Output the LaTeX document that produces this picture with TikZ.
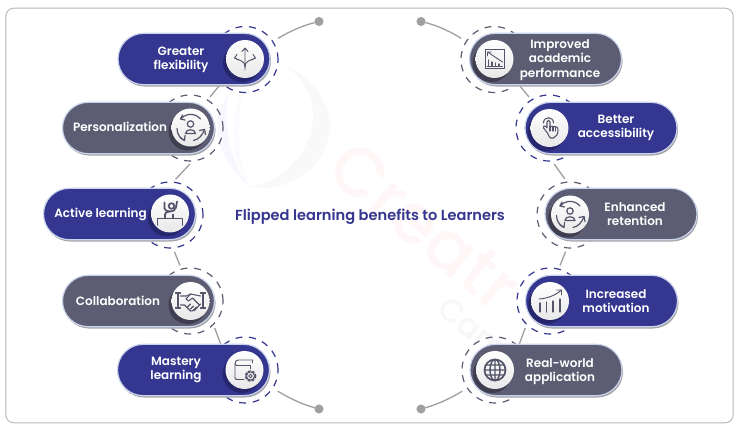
\documentclass[tikz,border=0pt]{standalone}
\usepackage{fontspec}
\setmainfont{Poppins Medium}[BoldFont=Poppins SemiBold]
\usetikzlibrary{shapes.misc,shadows,arrows.meta}
\definecolor{navy}{HTML}{34368F}
\definecolor{navyd}{HTML}{25266C}
\definecolor{slate}{HTML}{5C5C72}
\definecolor{slated}{HTML}{3E3E50}
\definecolor{edgeb}{HTML}{C9D4EC}
\definecolor{shadowg}{HTML}{A5A5A8}
\definecolor{linkg}{HTML}{A0A0A0}
\definecolor{icong}{HTML}{54546A}
\tikzset{
  x=0.75pt,y=-0.75pt,
  pillbase/.style={rounded rectangle,minimum width=114pt,minimum height=38.5pt,inner sep=0pt,outer sep=0pt,draw=edgeb,line width=0.9pt,
     drop shadow={shadow xshift=0.8pt,shadow yshift=-1.4pt,fill=shadowg,opacity=1}},
  pillnavy/.style={pillbase,fill=navy},
  pillslate/.style={pillbase,fill=slate},
  ringbase/.style={circle,minimum size=49.5pt,inner sep=0pt,outer sep=0pt,line width=0.9pt,dash pattern=on 5.2pt off 5pt},
  ringnavy/.style={ringbase,draw=navy},
  ringslate/.style={ringbase,draw=slate},
  discbase/.style={circle,minimum size=28.5pt,inner sep=0pt,outer sep=0pt,top color=white,bottom color=black!9},
  discnavy/.style={discbase,drop shadow={shadow xshift=-2.2pt,shadow yshift=-3pt,fill=navyd,opacity=1}},
  discslate/.style={discbase,drop shadow={shadow xshift=-2.2pt,shadow yshift=-3pt,fill=slated,opacity=1}},
  labeltext/.style={text=white,align=center,font=\fontsize{9pt}{10.7pt}\selectfont\bfseries,inner sep=0pt},
  dotend/.style={circle,fill=linkg,minimum size=6.8pt,inner sep=0pt,outer sep=0pt},
  link/.style={draw=linkg,line width=1pt},
  iconline/.style={draw=icong,line width=0.7pt,line cap=round,line join=round},
}
\newcommand{\iconsplit}{%
  \draw[iconline] (0,11)--(0,-11) (-3,-7.5)--(0,-11)--(3,-7.5);
  \draw[iconline] (0,8) .. controls (0,2) and (-4,2) .. (-10.5,-1) (-8,-4.5)--(-10.5,-1)--(-6.5,1);
  \draw[iconline] (0,8) .. controls (0,2) and (4,2) .. (10.5,-1) (8,-4.5)--(10.5,-1)--(6.5,1);}
\newcommand{\iconcycle}{%
  \draw[iconline,line width=0.9pt] (10,-8.5) arc (-40:-140:13) ;
  \draw[iconline,line width=0.9pt] (-8,-12.5)--(-10,-8.5)--(-5.5,-7.5);
  \draw[iconline,line width=0.9pt] (-13.5,1) .. controls (-13.5,7) and (-10,11) .. (-6,13);
  \draw[iconline,line width=0.9pt] (-10.5,10)--(-6,13)--(-5.5,8);
  \draw[iconline,line width=0.9pt] (3,13) .. controls (8,12) and (12,8) .. (14,2);
  \draw[iconline,line width=0.9pt] (9,3)--(14,2)--(15,7);
  \draw[iconline,line width=0.9pt] (0,-3.5) circle (3.2);
  \draw[iconline,line width=0.9pt] (-5,6) .. controls (-5,1) and (5,1) .. (5,6) -- cycle;}
\newcommand{\iconactive}{%
  \draw[iconline,line width=1.3pt] (-12.5,11.5)--(-12.5,5)--(12.5,5)--(12.5,11.5);
  \draw[iconline,line width=1.3pt] (-5,5)--(-5,1) .. controls (-5,-1) and (-3,-2) .. (0,-2) .. controls (3,-2) and (5,-3) .. (6,-6) (6,-6)--(7,-12);
  \draw[iconline,line width=1.3pt] (3,5)--(3,1) (-5.5,-11)--(-5.5,-5) .. controls (-5,-3) and (-3,-2) .. (0,-2);
  \draw[iconline,line width=1.3pt] (1.5,-7.5) circle (2.8);}
\newcommand{\iconshake}{%
  \draw[iconline,line width=0.8pt] (-15,-8)--(-10,-8) (-12.5,-8)--(-12.5,7) (-15,7)--(-10,7);
  \draw[iconline,line width=0.8pt] (15,-8)--(10,-8) (12.5,-8)--(12.5,7) (15,7)--(10,7);
  \draw[iconline,line width=0.8pt] (-10,-5)--(-4,-5)--(0,-7)--(10,-5);
  \draw[iconline,line width=0.8pt] (-10,4)--(-6,4)--(0,10)--(4,9.5)--(10,3);
  \draw[iconline,line width=0.8pt] (0,-7)--(-4.5,-2)--(-2,0)--(2,-3)--(9,4);
  \draw[iconline,line width=0.8pt] (-3,6)--(0,3) (0,8)--(3,5) (3,9)--(6,6);}
\newcommand{\iconbook}{%
  \draw[iconline] (-9.5,8)--(-9.5,-6) .. controls (-9.5,-9) and (-8,-10) .. (-6,-10)--(8,-10);
  \draw[iconline] (-9.5,-6) .. controls (-9.5,-4.5) and (-8,-4.5) .. (-6,-4.5)--(6,-4.5)--(6,-1);
  \draw[iconline] (-9.5,8) .. controls (-9.5,9.5) and (-8,9.5) .. (-6,9.5)--(-0.5,9.5);
  \draw[iconline] (8,-10)--(8,-7);
  \draw[iconline,line width=1.1pt,dash pattern=on 1.6pt off 1.6pt] (6,6) circle (5.2);
  \draw[iconline] (6,6) circle (4);
  \draw[iconline] (6,6) circle (1.7);}
\newcommand{\iconchartdown}{%
  \draw[iconline] (-9.5,-10) rectangle (9.5,9.5);
  \draw[iconline] (-7,-7)--(8,3) (-7,-3)--(-7,-7)--(-3,-7);
  \draw[iconline,line width=1pt] (-6,1)--(-6,6.5) (-2.5,3)--(-2.5,6.5) (1,4)--(1,6.5) (4.5,5)--(4.5,6.5);
  \draw[iconline] (-7.5,7.5)--(8,7.5);}
\newcommand{\iconhand}{%
  \draw[iconline,line width=0.8pt] (-2,5) -- (-6,0) .. controls (-7,-1.5) and (-5,-3) .. (-3.5,-1.5) -- (-2.5,0) -- (-2.5,-6) .. controls (-2.5,-8.5) and (0.5,-8.5) .. (0.5,-6) -- (0.5,-1.5) -- (4,-1.5) -- (7,-1) .. controls (8.5,-1) and (8.5,1) .. (8.5,2) .. controls (8.5,6) and (7,9) .. (4,10) -- (1,10) .. controls (-0.5,9) and (-1,7) .. (-2,5);
  \draw[iconline,line width=0.8pt] (0.5,-1.5)--(0.5,3) (3.5,-1.5)--(3.5,3) (6,-1)--(6,3);
  \draw[iconline,line width=0.8pt] (-6,-5) .. controls (-6,-12) and (4,-12) .. (4,-5);}
\newcommand{\iconchartup}{%
  \draw[iconline] (-11,-2) .. controls (-4,-2.5) and (5,-5) .. (11.5,-11) (6.5,-11)--(11.5,-11)--(11.5,-6);
  \draw[iconline,line width=0.9pt] (-10,2)--(-10,11) (-3.5,1)--(-3.5,11) (3,0)--(3,11) (10,-2)--(10,11);}
\newcommand{\iconglobe}{%
  \draw[draw=icong,line width=1.3pt,line cap=round] (0,0) circle (10.5);
  \draw[draw=icong,line width=1.1pt] (0,0) ellipse (5 and 10.5) (0,-10.5)--(0,10.5) (-10.5,0)--(10.5,0) (-9,-5)--(9,-5) (-9,5)--(9,5);}
\begin{document}
\begin{tikzpicture}
\useasboundingbox (0,0) rectangle (740,431);
\fill[white] (0,0) rectangle (740,431);
\node[draw=black!28,fill=white,rounded corners=6pt,line width=0.7pt,minimum width=545.5pt,minimum height=311pt,inner sep=0,outer sep=0] (frame) at (369.5,215.5) {};
% watermark
\fill[black!2.5] (250,187) .. controls (300,195) and (345,150) .. (325,105) .. controls (318,88) and (303,73) .. (287,67) .. controls (305,80) and (320,105) .. (310,135) .. controls (300,165) and (275,183) .. (250,187) -- cycle;
\fill[blue!3] (250,187) .. controls (222,165) and (205,125) .. (228,95) .. controls (224,125) and (228,160) .. (250,187) -- cycle;
\fill[blue!2] (250,187) .. controls (235,165) and (225,125) .. (245,85) .. controls (236,120) and (236,160) .. (250,187) -- cycle;
\node[rotate=-39,text=red!3,font=\fontsize{52pt}{52pt}\selectfont,inner sep=0,anchor=west] (wma) at (338,156) {Creatr};
\node[rotate=-38,text=black!3,font=\fontsize{24pt}{24pt}\selectfont,inner sep=0,anchor=west] (wmb) at (442,304) {Cam};
% rings
\node[ringnavy] (rA) at (245,59.5) {};
\node[ringslate] (rB) at (190,128) {};
\node[ringnavy] (rC) at (170,215) {};
\node[ringslate] (rD) at (190,301) {};
\node[ringnavy] (rE) at (245,370) {};
\node[ringslate] (rF) at (494,59.5) {};
\node[ringnavy] (rG) at (549,128) {};
\node[ringslate] (rH) at (570,215) {};
\node[ringnavy] (rI) at (550,301) {};
\node[ringslate] (rJ) at (495,370) {};
% end dots
\node[dotend] (dTL) at (319,21.5) {};
\node[dotend] (dTR) at (421,21.5) {};
\node[dotend] (dBL) at (319,409) {};
\node[dotend] (dBR) at (421,409) {};
% connectors
\draw[link,shorten <=4.5pt] (rA.33) .. controls (292,30) and (305,25) .. (dTL);
\draw[link,shorten <=4.5pt] (rF.147) .. controls (448,30) and (435,25) .. (dTR);
\draw[link,shorten <=4.5pt] (rE.-33) .. controls (292,400) and (305,405) .. (dBL);
\draw[link,shorten <=4.5pt] (rJ.-147) .. controls (448,400) and (435,405) .. (dBR);
\draw[link,shorten >=3pt] (rA.225) -- (rB.58);
\draw[link,shorten >=3pt,shorten <=3pt] (rB.-85) -- (rC.85);
\draw[link,shorten >=3pt,shorten <=3pt] (rC.-85) -- (rD.105);
\draw[link,shorten <=3pt] (rD.-45) -- (rE.135);
\draw[link,shorten >=3pt] (rF.-45) -- (rG.122);
\draw[link,shorten >=3pt,shorten <=3pt] (rG.-85) -- (rH.95);
\draw[link,shorten >=3pt,shorten <=3pt] (rH.-95) -- (rI.75);
\draw[link,shorten <=3pt] (rI.-135) -- (rJ.45);
% pills
\node[pillnavy] (pA) at (194,59) {};
\node[pillslate] (pB) at (138.5,128) {};
\node[pillnavy] (pC) at (119.5,214) {};
\node[pillslate] (pD) at (138.5,301) {};
\node[pillnavy] (pE) at (193.5,370) {};
\node[pillslate] (pF) at (545.5,59) {};
\node[pillnavy] (pG) at (601,128) {};
\node[pillslate] (pH) at (621,214) {};
\node[pillnavy] (pI) at (601.5,301) {};
\node[pillslate] (pJ) at (546,370) {};
% discs
\node[discnavy] (cA) at (245,59) {};
\node[discslate] (cB) at (190.5,127.5) {};
\node[discnavy] (cC) at (170,213.5) {};
\node[discslate] (cD) at (190.5,301) {};
\node[discnavy] (cE) at (244.5,370) {};
\node[discslate] (cF) at (494.5,59) {};
\node[discnavy] (cG) at (549.5,128) {};
\node[discslate] (cH) at (570,214.5) {};
\node[discnavy] (cI) at (550,301) {};
\node[discslate] (cJ) at (495,370) {};
% icons
\begin{scope}[shift={(cA.center)}]\iconsplit\end{scope}
\begin{scope}[shift={(cB.center)}]\iconcycle\end{scope}
\begin{scope}[shift={(cC.center)}]\iconactive\end{scope}
\begin{scope}[shift={(cD.center)}]\iconshake\end{scope}
\begin{scope}[shift={(cE.center)}]\iconbook\end{scope}
\begin{scope}[shift={(cF.center)}]\iconchartdown\end{scope}
\begin{scope}[shift={(cG.center)}]\iconhand\end{scope}
\begin{scope}[shift={(cH.center)}]\iconcycle\end{scope}
\begin{scope}[shift={(cI.center)}]\iconchartup\end{scope}
\begin{scope}[shift={(cJ.center)}]\iconglobe\end{scope}
% labels
\node[labeltext] (tA) at (181,60) {Greater\\flexibility};
\node[labeltext] (tB) at (120,127) {Personalization};
\node[labeltext] (tC) at (100.5,214) {Active learning};
\node[labeltext] (tD) at (118,301) {Collaboration};
\node[labeltext] (tE) at (176,370) {Mastery\\learning};
\node[labeltext] (tF) at (560,60) {Improved\\academic\\performance};
\node[labeltext] (tG) at (616,128) {Better\\accessibility};
\node[labeltext] (tH) at (635,214) {Enhanced\\retention};
\node[labeltext] (tI) at (616,301) {Increased\\motivation};
\node[labeltext] (tJ) at (560,372) {Real-world\\application};
\node[text=navy,font=\fontsize{10.95pt}{12pt}\selectfont\bfseries,inner sep=0] (title) at (370,217) {Flipped learning benefits to Learners};
\end{tikzpicture}
\end{document}
